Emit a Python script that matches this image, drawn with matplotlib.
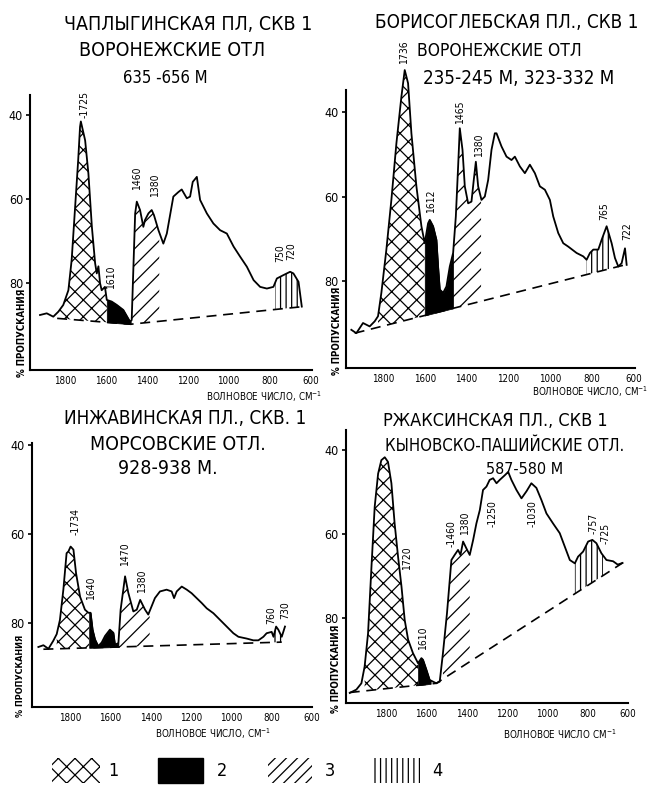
import numpy as np
import matplotlib
matplotlib.use("Agg")
import matplotlib.pyplot as plt
from matplotlib.patches import Rectangle

# ===== フォント（DejaVu Sans Condensed） =====
plt.rcParams["font.family"] = ["DejaVu Sans"]
plt.rcParams["font.stretch"] = "condensed"
plt.rcParams["hatch.linewidth"] = 0.9
plt.rcParams["mathtext.fontset"] = "dejavusans"

W, H = 647, 788

# ===== データ（波数 см-1, пропускание %） =====
P1_WN = [1924, 1891, 1859, 1834, 1810, 1785, 1769, 1753, 1737, 1728, 1724, 1703, 1687, 1670, 1654,
         1646, 1638, 1630, 1622, 1606, 1597, 1573, 1548, 1516, 1483, 1475, 1458, 1450, 1434, 1418,
         1410, 1393, 1377, 1366, 1344, 1320, 1303, 1271, 1246, 1230, 1205, 1189, 1176, 1156, 1140,
         1107, 1075, 1042, 1009, 976, 944, 911, 878, 846, 813, 781, 764, 732, 699, 683, 658, 642]
P1_T = [87.6, 87.2, 88, 86.8, 85.2, 81.7, 74.5, 62.6, 50.7, 42.8, 41.5, 46, 53.9, 66.6, 75.3,
        77.7, 76, 80, 81.7, 80.9, 84, 84.4, 85.2, 86.4, 89.2, 88.8, 63.4, 60.6, 62.6, 66.6,
        65, 63.4, 62.6, 63.8, 67.4, 70.6, 68.2, 59.4, 58.3, 57.7, 59.8, 59.4, 55.9, 54.7, 60.2,
        63.4, 65.8, 67.4, 68.2, 71.3, 73.7, 76.1, 79.3, 80.9, 81.3, 80.9, 78.9, 78.1, 77.3, 77.7, 79.7, 85.6]
P1_BASE_WN = [1840, 1480, 635]
P1_BASE_T = [88.4, 89.8, 85.6]

P2_WN = [1952, 1928, 1896, 1864, 1840, 1824, 1808, 1784, 1760, 1736, 1712, 1696, 1680, 1664, 1640,
         1616, 1600, 1584, 1576, 1560, 1544, 1536, 1528, 1512, 1496, 1480, 1464, 1451, 1440, 1432,
         1419, 1408, 1392, 1376, 1365, 1355, 1344, 1328, 1312, 1296, 1280, 1264, 1256, 1232, 1208,
         1184, 1168, 1144, 1120, 1096, 1072, 1048, 1024, 1000, 984, 960, 936, 912, 872, 840,
         824, 808, 792, 768, 752, 728, 704, 688, 672, 656, 640, 632]
P2_T = [91.4, 92.2, 89.8, 90.6, 89.4, 88.2, 82.7, 72.5, 60.8, 47.5, 36.5, 30.2, 33.3, 45.1, 57.6,
        67, 71, 66.3, 65.5, 67, 70.2, 76.5, 81.9, 82.7, 81.2, 76.5, 73.3, 64.7, 52.9, 43.9,
        49, 57.6, 61.6, 61.2, 56.1, 51.8, 57.6, 60.8, 60, 56.1, 49, 45.1, 45.1, 48.2, 50.6,
        51.4, 50.6, 52.9, 54.5, 52.5, 54.5, 57.6, 58.4, 60.8, 64.7, 68.6, 71, 71.8, 73.3, 74.1,
        74.9, 73.3, 72.5, 72.5, 70.2, 67, 71, 74.5, 76.5, 75.7, 72.2, 76.1]
P2_BASE_WN = [1936, 640]
P2_BASE_T = [92.2, 76.1]

P3_WN = [1957, 1932, 1907, 1883, 1866, 1850, 1833, 1817, 1808, 1797, 1783, 1770, 1750, 1726, 1709,
         1698, 1688, 1676, 1660, 1643, 1626, 1602, 1585, 1577, 1560, 1549, 1527, 1511, 1486, 1469,
         1452, 1428, 1412, 1395, 1379, 1354, 1321, 1296, 1284, 1271, 1246, 1221, 1197, 1172, 1147,
         1122, 1089, 1056, 1023, 990, 965, 924, 891, 866, 841, 825, 800, 791, 778, 767, 750, 734]
P3_T = [85.5, 85.1, 85.9, 84.1, 82.6, 79.4, 72.6, 64.4, 64, 62.9, 63.6, 68.9, 74.2, 77.1, 77.8,
        77.8, 81.6, 83.8, 85.3, 84.5, 83, 81.6, 82.3, 85, 84.6, 77.1, 69.6, 73.3, 77.5, 77.1,
        74.9, 77.1, 78.2, 76.3, 74.5, 73, 72.6, 73, 74.5, 73, 71.9, 72.6, 73.4, 74.5, 75.6,
        76.8, 77.9, 79.4, 80.9, 82.4, 83.2, 83.6, 84, 84, 83.2, 82.4, 82.1, 83.2, 80.9, 81.6, 83.2, 80.9]
P3_BASE_WN = [1932, 750]
P3_BASE_T = [86, 84.4]

P4_WN = [1982, 1949, 1924, 1908, 1891, 1874, 1858, 1841, 1825, 1808, 1792, 1775, 1759, 1742, 1725,
         1709, 1692, 1668, 1643, 1626, 1618, 1601, 1585, 1552, 1535, 1519, 1499, 1477, 1461, 1444,
         1432, 1419, 1403, 1386, 1369, 1353, 1336, 1320, 1303, 1287, 1270, 1253, 1237, 1212, 1195,
         1179, 1154, 1129, 1104, 1080, 1055, 1030, 1005, 972, 939, 914, 889, 864, 848, 823,
         798, 777, 757, 732, 707, 674, 651, 627]
P4_T = [97.9, 97.1, 95.6, 91.6, 83.7, 67.8, 53.5, 45.6, 42.4, 41.7, 42.8, 47.9, 57.5, 65.4, 72.5,
        80.5, 85.2, 88.4, 90.8, 89.6, 90, 92.4, 94.8, 95.6, 95.2, 88.4, 78.9, 66.2, 65, 63.8,
        65, 61.8, 63.4, 65, 61.4, 57.5, 54.3, 49.5, 48.7, 47.1, 46.7, 47.9, 47.1, 46, 45.2,
        47.1, 49.5, 51.5, 49.8, 47.9, 49, 51.9, 55.1, 57.5, 59.8, 63, 66.2, 67, 65.4, 64.2,
        61.8, 61.4, 62.2, 64.6, 66.2, 66.5, 67.3, 66.9]
P4_BASE_WN = [1982, 1552, 627]
P4_BASE_T = [97.8, 95.6, 66.9]

# 区間: (крест, чёрн, косая, верт)
P1_BANDS = [(1834, 1597), (1597, 1480), (1476, 1340), (772, 642)]
P2_BANDS = [(1824, 1600), (1600, 1464), (1464, 1330), (824, 712)]
P3_BANDS = [(1866, 1705), (1705, 1560), (1560, 1405), (800, 742)]
P4_BANDS = [(1908, 1643), (1643, 1580), (1519, 1386), (864, 724)]

P1_PEAKS = [("-1725", 1704, 37.4), ("1460", 1450, 55.1), ("1380", 1360, 56.7),
            ("1610", 1576, 78.5), ("750", 748, 72.9), ("720", 695, 72.5)]
P2_PEAKS = [("1736", 1698, 25.9), ("1612", 1568, 61.2), ("1465", 1429, 40.2),
            ("1380", 1341, 47.8), ("765", 739, 63.5), ("722", 629, 68.2)]
P3_PEAKS = [("-1734", 1775, 57.3), ("1640", 1698, 72.3), ("1470", 1527, 64.7),
            ("1380", 1445, 70.8), ("760", 800, 78.3), ("730", 734, 77.2)]
P4_PEAKS = [("1720", 1697, 65.8), ("1610", 1618, 84.8), ("-1460", 1477, 59.8),
            ("1380", 1408, 57.5), ("-1250", 1274, 55.1), ("-1030", 1076, 55.1),
            ("-757", 770, 57.5), ("-725", 711, 59.8)]

P1_TITLE = ["ЧАПЛЫГИНСКАЯ ПЛ, СКВ 1", "ВОРОНЕЖСКИЕ ОТЛ", "635 -656 М"]
P2_TITLE = ["БОРИСОГЛЕБСКАЯ ПЛ., СКВ 1", "ВОРОНЕЖСКИЕ ОТЛ", "235-245 М, 323-332 М"]
P3_TITLE = ["ИНЖАВИНСКАЯ ПЛ., СКВ. 1", "МОРСОВСКИЕ ОТЛ.", "928-938 М."]
P4_TITLE = ["РЖАКСИНСКАЯ ПЛ., СКВ 1", "КЫНОВСКО-ПАШИЙСКИЕ ОТЛ.", "587-580 М"]

XTICKS = [1800, 1600, 1400, 1200, 1000, 800, 600]
YTICKS = [40, 60, 80]
LEGEND_LABELS = ["1", "2", "3", "4"]
HATCHES = ["xx", None, "//", "|||"]
LEGEND_HATCHES = ["xx", None, "///", "|||"]

fig = plt.figure(figsize=(W / 100, H / 100), dpi=100)


def px_axes(l, t, r, b):
    return fig.add_axes([l / W, 1 - b / H, (r - l) / W, (b - t) / H])


def ftext(x, y, s, **kw):
    fig.text(x / W, 1 - y / H, s, **kw)


def band(ax, wn, t, bwn, bt, hi, lo, hatch):
    wn = np.asarray(wn, float)
    t = np.asarray(t, float)
    m = (wn <= hi) & (wn >= lo)
    xs = np.concatenate([[hi], wn[m], [lo]])
    top = np.interp(xs, wn[::-1], t[::-1])
    bo = np.argsort(bwn)
    base = np.interp(xs, np.asarray(bwn)[bo], np.asarray(bt)[bo])
    if hatch is None:
        ax.fill_between(xs, top, base, facecolor="black", edgecolor="black",
                        linewidth=0.5, zorder=2, clip_on=False)
    else:
        ax.fill_between(xs, top, base, facecolor="none", edgecolor="black",
                        linewidth=0, hatch=hatch, zorder=2, clip_on=False)


def panel(box, xlim, ylim, wn, t, bwn, bt, bands, peaks, title, tpos, tsize, xl_pos, yl_pos, xl_text):
    ax = px_axes(*box)
    ax.set_xlim(*xlim)
    ax.set_ylim(*ylim)
    for (hi, lo), h in zip(bands, HATCHES):
        band(ax, wn, t, bwn, bt, hi, lo, h)
    ax.plot(wn, t, color="black", lw=1.3, zorder=4, clip_on=False)
    ax.plot(bwn, bt, color="black", lw=1.2, ls=(0, (6, 4)), zorder=4, clip_on=False)
    for s, x, y in peaks:
        ax.text(x, y, s, rotation=90, ha="center", va="center", fontsize=7.5, zorder=5)

    for sp in ("top", "right"):
        ax.spines[sp].set_visible(False)
    for sp in ("left", "bottom"):
        ax.spines[sp].set_linewidth(1.5)
    ax.set_xticks(XTICKS)
    ax.set_xticklabels([str(v) for v in XTICKS])
    ax.set_yticks(YTICKS)
    ax.set_yticklabels([str(v) for v in YTICKS])
    ax.tick_params(axis="x", length=0, pad=4, labelsize=7)
    ax.tick_params(axis="y", length=3, width=1.2, pad=2, labelsize=9)
    ax.patch.set_alpha(0)

    for line, (x, y), fs in zip(title, tpos, tsize):
        ftext(x, y, line, ha="center", va="center", fontsize=fs)
    ftext(xl_pos[0], xl_pos[1], xl_text, ha="center", va="center", fontsize=7)
    ftext(yl_pos[0], yl_pos[1], "% ПРОПУСКАНИЯ", ha="center", va="center",
          rotation=90, fontsize=yl_pos[2], fontweight="bold")
    return ax


XL1 = "ВОЛНОВОЕ ЧИСЛО, СМ$^{-1}$"
XL2 = "ВОЛНОВОЕ ЧИСЛО СМ$^{-1}$"

panel((30, 95, 312, 370), (1973, 592), (100.7, 35.2), P1_WN, P1_T, P1_BASE_WN, P1_BASE_T,
      P1_BANDS, P1_PEAKS, P1_TITLE, [(188, 24), (172, 51), (165, 78)], [14, 14, 12],
      (264, 397), (22, 333, 7), XL1)
panel((345.7, 90, 635, 368), (1979, 592), (100.4, 34.9), P2_WN, P2_T, P2_BASE_WN, P2_BASE_T,
      P2_BANDS, P2_PEAKS, P2_TITLE, [(507, 22), (499, 51), (519, 78)], [13.5, 12.5, 13.5],
      (590, 392), (337, 331, 7), XL1)
panel((31.7, 443, 312, 707), (1990, 602), (99, 39.6), P3_WN, P3_T, P3_BASE_WN, P3_BASE_T,
      P3_BANDS, P3_PEAKS, P3_TITLE, [(185, 418), (178, 444), (168, 469)], [13.5, 14, 14],
      (213, 734), (21, 676, 6.5), XL1)
panel((345.7, 430, 628, 703), (2002, 600), (100.3, 35.2), P4_WN, P4_T, P4_BASE_WN, P4_BASE_T,
      P4_BANDS, P4_PEAKS, P4_TITLE, [(495, 421), (505, 446), (525, 470)], [13, 12, 11.5],
      (560, 734), (336, 669, 7), XL2)

# ===== 凡例 =====
lg = fig.add_axes([0, 0, 1, 60 / H])
lg.set_xlim(0, W)
lg.set_ylim(H, H - 60)
lg.axis("off")
sample_x = [52, 158, 268, 372]
sample_w = [48, 45, 44, 48]
label_x = [113, 222, 330, 437]
for x0, w, h, lab, lx in zip(sample_x, sample_w, LEGEND_HATCHES, LEGEND_LABELS, label_x):
    if h is None:
        lg.add_patch(Rectangle((x0, 758), w, 25, facecolor="black", edgecolor="black"))
    else:
        lg.add_patch(Rectangle((x0, 758), w, 25, facecolor="none", edgecolor="black",
                               linewidth=0, hatch=h))
    lg.text(lx, 771, lab, ha="center", va="center", fontsize=13)

fig.savefig("out.png", dpi=100)
